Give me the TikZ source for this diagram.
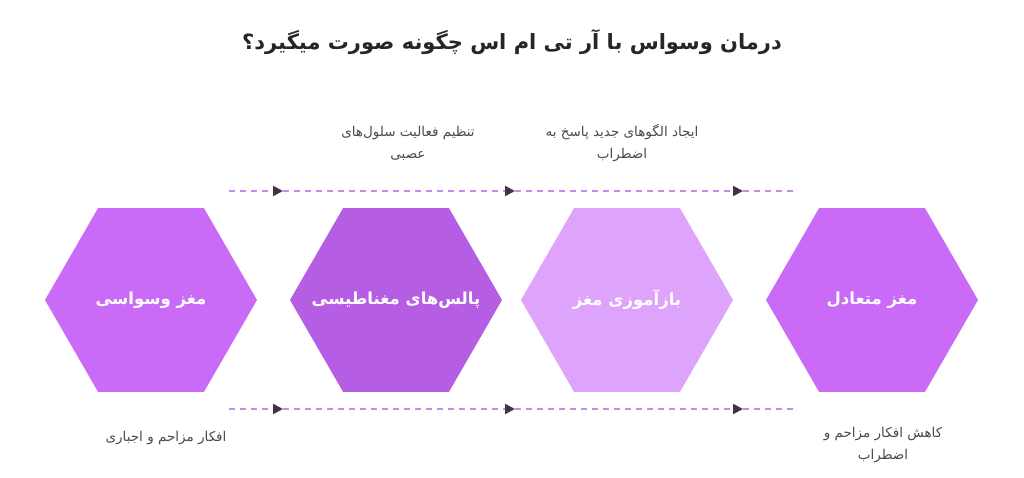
\documentclass[tikz,border=0pt]{standalone}
\usepackage{fontspec}
\usepackage{tikz}
\usetikzlibrary{shapes.geometric,arrows.meta}
\TeXXeTstate=1
\newfontfamily\farsi[Script=Arabic]{DejaVu Sans}
\newcommand{\fatext}[1]{{\farsi\beginR #1\endR}}

\definecolor{hexviolet}{HTML}{C96BF6}
\definecolor{hexdeep}{HTML}{B65EE3}
\definecolor{hexpale}{HTML}{DEA3FA}
\definecolor{dashcol}{HTML}{C98BE8}
\definecolor{tipcol}{HTML}{3F3346}
\definecolor{labcol}{HTML}{4A4A4A}

\tikzset{
	hexa/.style={regular polygon, regular polygon sides=6, minimum size=212pt, inner sep=0pt},
	hexlabel/.style={text=white, font=\farsi\bfseries\fontsize{16.5}{20}\selectfont},
	dashline/.style={draw=dashcol, line width=2pt, dash pattern=on 6pt off 5pt},
	flow/.style={dashline, -{Triangle[length=10pt,width=10pt,color=tipcol]}},
	note/.style={text=labcol, align=center, font=\farsi\fontsize{13.5}{22}\selectfont}
}

\begin{document}
\begin{tikzpicture}[x=1pt, y=-1pt]
		\useasboundingbox (0,0) rectangle (1024,478);
		\node[font=\farsi\bfseries\fontsize{21}{24}\selectfont, text=black!85] (title) at (512,42) {\beginR درمان وسواس با آر تی ام اس چگونه صورت میگیرد؟\endR};
		% hexagons
		\node[hexa, fill=hexviolet] (obsessive) at (151,300) {};
		\node[hexa, fill=hexdeep] (pulses) at (396,300) {};
		\node[hexa, fill=hexpale] (retrain) at (627,300) {};
		\node[hexa, fill=hexviolet] (balanced) at (872,300) {};
		\node[hexlabel] (obsessive-t) at (obsessive) {\beginR مغز وسواسی\endR};
		\node[hexlabel] (pulses-t) at (pulses) {\beginR پالس^^^^200cهای مغناطیسی\endR};
		\node[hexlabel] (retrain-t) at (retrain) {\beginR بازآموزی مغز\endR};
		\node[hexlabel] (balanced-t) at (balanced) {\beginR مغز متعادل\endR};
		% dashed rails
		\coordinate (t0) at (229,191);
		\coordinate (t1) at (283,191);
		\coordinate (t2) at (515,191);
		\coordinate (t3) at (743,191);
		\coordinate (t4) at (796,191);
		\coordinate (b0) at (229,409);
		\coordinate (b1) at (283,409);
		\coordinate (b2) at (515,409);
		\coordinate (b3) at (743,409);
		\coordinate (b4) at (796,409);
		\path
		(t0) edge[flow] (t1)
		(t1) edge[flow] (t2)
		(t2) edge[flow] (t3)
		(t3) edge[dashline] (t4)
		(b0) edge[flow] (b1)
		(b1) edge[flow] (b2)
		(b2) edge[flow] (b3)
		(b3) edge[dashline] (b4)
		;
		% notes
		\node[note] (neurons) at (408,143) {\beginR تنظیم فعالیت سلول^^^^200cهای\endR\\\beginR عصبی\endR};
		\node[note] (patterns) at (622,143) {\beginR ایجاد الگوهای جدید پاسخ به\endR\\\beginR اضطراب\endR};
		\node[note] (intrusive) at (166,438) {\beginR افکار مزاحم و اجباری\endR};
		\node[note] (relief) at (883,445) {\beginR کاهش افکار مزاحم و\endR\\\beginR اضطراب\endR};
	\end{tikzpicture}
\end{document}
